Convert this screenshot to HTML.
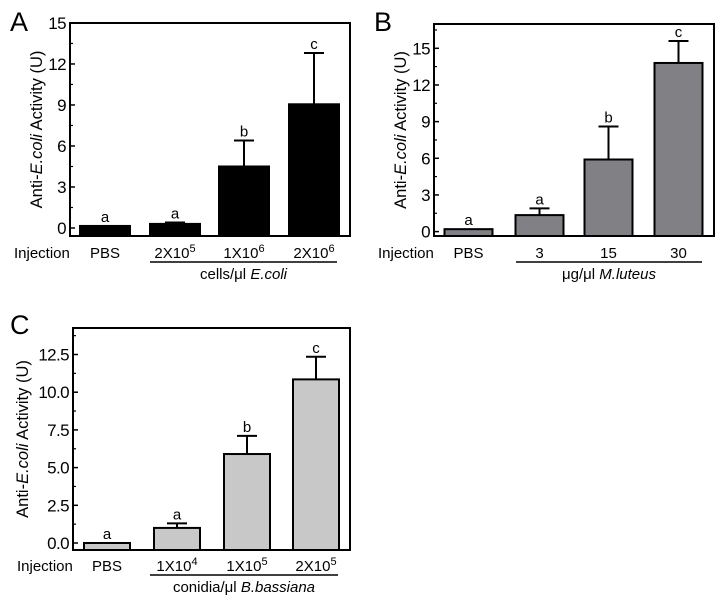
<!DOCTYPE html>
<html><head><meta charset="utf-8"><style>
html,body{margin:0;padding:0;background:#fff;}
svg{display:block;font-family:"Liberation Sans",sans-serif;}
</style></head><body>
<svg id="fig" width="728" height="602" viewBox="0 0 728 602" xmlns="http://www.w3.org/2000/svg"></svg>
<script>
// Panel A data
const catsA = ["PBS", "2X10|5", "1X10|6", "2X10|6"];
const valsA = [0.15, 0.3, 4.5, 9.05];
const errA = [null, 0.4, 6.4, 12.8];
const letA = ["a", "a", "b", "c"];
const ticksA = [0, 3, 6, 9, 12, 15];
// Panel B data
const catsB = ["PBS", "3", "15", "30"];
const valsB = [0.2, 1.35, 5.9, 13.8];
const errB = [null, 1.9, 8.6, 15.6];
const letB = ["a", "a", "b", "c"];
const ticksB = [0, 3, 6, 9, 12, 15];
// Panel C data
const catsC = ["PBS", "1X10|4", "1X10|5", "2X10|5"];
const valsC = [0.0, 1.0, 5.9, 10.85];
const errC = [null, 1.3, 7.1, 12.35];
const letC = ["a", "a", "b", "c"];
const ticksC = ["0.0", "2.5", "5.0", "7.5", "10.0", "12.5"];

const NS = "http://www.w3.org/2000/svg";
const svg = document.getElementById("fig");
function mk(tag, attrs, parent, text) {
  const e = document.createElementNS(NS, tag);
  for (const k in attrs) e.setAttribute(k, attrs[k]);
  if (text !== undefined) e.textContent = text;
  (parent || svg).appendChild(e);
  return e;
}

function panel(cfg) {
  const g = mk("g", {});
  
  
  const y = v => cfg.y0 - (v * cfg.ppu);
  const L = cfg.left, R = cfg.right, T = cfg.top, B = cfg.bottom;
  const lt = mk("text", {x: cfg.letterX, y: cfg.letterY, "font-size": 27}, g, cfg.letter);
  
  
  const barW = cfg.barW;
  cfg.vals.forEach((v, i) => {
    const cx = cfg.centers[i];
    const top = y(v);
    const bar = mk("rect", {x: cx - barW / 2, y: top, width: barW, height: Math.max(B - top, 0), fill: cfg.color, stroke: "#000", "stroke-width": 2}, g);
    
    
    let labY = top - 4;
    if (cfg.errs[i] !== null) {
      const ey = y(cfg.errs[i]);
      const eb = mk("path", {d: `M${cx} ${top}V${ey}M${cx - 10} ${ey}H${cx + 10}`, stroke: "#000", "stroke-width": 2, fill: "none"}, g);
      
      
      labY = ey - 4;
    }
    const lb = mk("text", {x: cx, y: labY, "font-size": 15, "text-anchor": "middle"}, g, cfg.lets[i]);
    
    
    const parts = cfg.cats[i].split("|");
    const ct = mk("text", {x: cx, y: cfg.catY, "font-size": 15, "text-anchor": "middle"}, g);
    
    
    mk("tspan", {}, ct, parts[0]);
    if (parts[1]) { mk("tspan", {dy: -6, "font-size": 11}, ct, parts[1]); }
  });
  const fr = mk("rect", {x: L, y: T, width: R - L, height: B - T, fill: "none", stroke: "#000", "stroke-width": 2}, g);
  
  
  cfg.ticks.forEach((t) => {
    const v = parseFloat(t);
    const ty = y(v);
    mk("line", {x1: L, x2: L + 5, y1: ty, y2: ty, stroke: "#000", "stroke-width": 1.5}, g);
    const tl = mk("text", {x: L - 4, y: ty + 6, "font-size": 17, "letter-spacing": -0.6, "text-anchor": "end"}, g, String(t));
    
    
    const my = y(v + cfg.minor);
    if (my > T + 1) mk("line", {x1: L, x2: L + 3, y1: my, y2: my, stroke: "#000", "stroke-width": 1.2}, g);
  });
  const cy = (T + B) / 2;
  const yt = mk("text", {x: 0, y: 0, "font-size": 16.5, "text-anchor": "middle", transform: `translate(${cfg.titleX},${cy}) rotate(-90)`}, g);
  
  
  mk("tspan", {}, yt, "Anti-");
  mk("tspan", {"font-style": "italic"}, yt, "E.coli");
  mk("tspan", {}, yt, " Activity (U)");
  const inj = mk("text", {x: cfg.injX, y: cfg.catY, "font-size": 15}, g, "Injection");
  
  
  const ln = mk("line", {x1: cfg.lineX1, x2: cfg.lineX2, y1: cfg.lineY, y2: cfg.lineY, stroke: "#000", "stroke-width": 1.5}, g);
  
  
  const gl = mk("text", {x: (cfg.lineX1 + cfg.lineX2) / 2, y: cfg.lineY + 17, "font-size": 15, "text-anchor": "middle"}, g);
  
  
  mk("tspan", {}, gl, cfg.group[0]);
  mk("tspan", {"font-style": "italic"}, gl, cfg.group[1]);
}

panel({name: "panel-a", letter: "A", letterX: 10, letterY: 31, left: 70, right: 350, top: 23, bottom: 236,
  y0: 228, ppu: 13.67, barW: 50, centers: [105, 175, 244, 314], color: "#000",
  vals: valsA, errs: errA, lets: letA, cats: catsA, ticks: ticksA, minor: 1.5,
  catY: 258, titleX: 42, injX: 14, lineX1: 150, lineX2: 337, lineY: 262, group: ["cells/μl ", "E.coli"]});
panel({name: "panel-b", letter: "B", letterX: 374, letterY: 31, left: 434, right: 714, top: 24, bottom: 236,
  y0: 231.6, ppu: 12.22, barW: 48, centers: [468.5, 539.5, 608.5, 678.5], color: "#808085",
  vals: valsB, errs: errB, lets: letB, cats: catsB, ticks: ticksB, minor: 1.5,
  catY: 258, titleX: 406, injX: 378, lineX1: 516, lineX2: 702, lineY: 262, group: ["μg/μl ", "M.luteus"]});
panel({name: "panel-c", letter: "C", letterX: 10, letterY: 334, left: 73, right: 350, top: 328, bottom: 550,
  y0: 543, ppu: 15.08, barW: 46, centers: [107, 177, 247, 316], color: "#c8c8c8",
  vals: valsC, errs: errC, lets: letC, cats: catsC, ticks: ticksC, minor: 1.25,
  catY: 571, titleX: 28, injX: 17, lineX1: 150, lineX2: 338, lineY: 575, group: ["conidia/μl ", "B.bassiana"]});
</script>
</body></html>
